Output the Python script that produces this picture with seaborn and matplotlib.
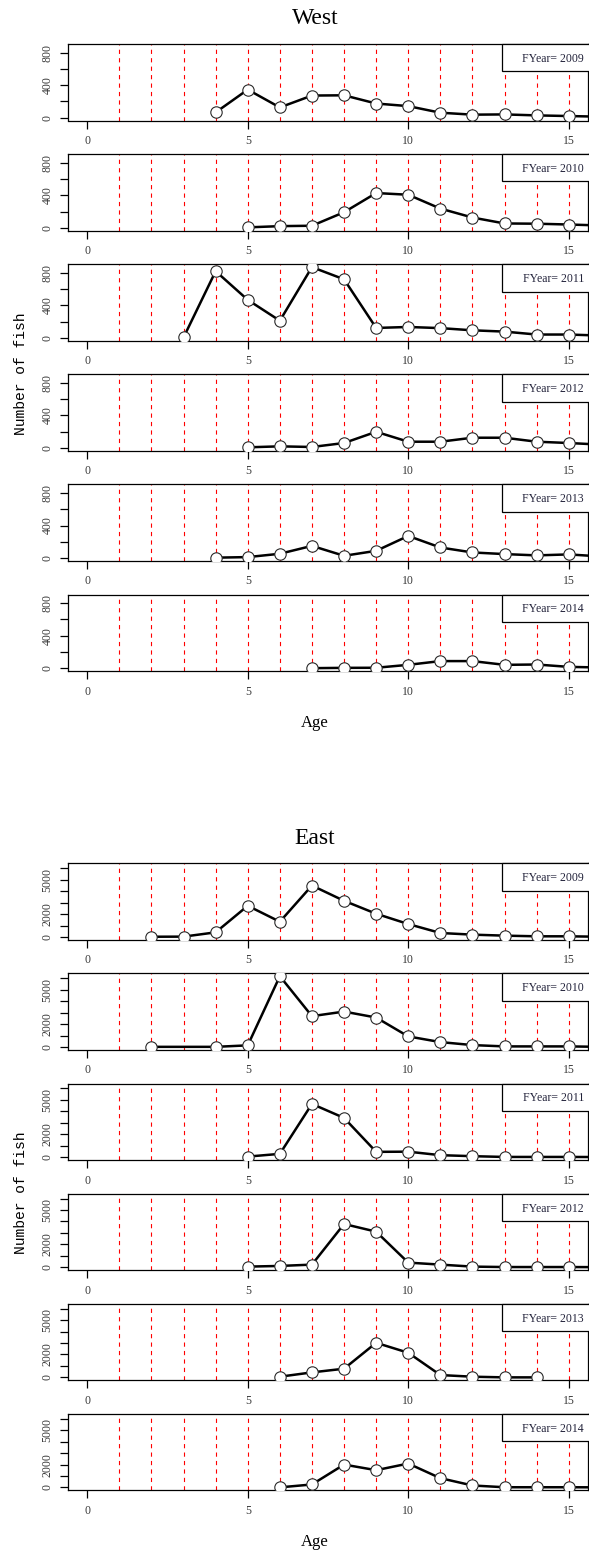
import matplotlib
matplotlib.use("Agg")
import matplotlib.pyplot as plt
import seaborn as sns
import pandas as pd
from matplotlib.patches import Rectangle

# ---------------- data ----------------
years = [2009, 2010, 2011, 2012, 2013, 2014]

west_2009_age = [4, 5, 6, 7, 8, 9, 10, 11, 12, 13, 14, 15, 16]
west_2009_n = [65, 345, 126, 272, 275, 174, 142, 61, 37, 40, 28, 20, 12]
west_2010_age = [5, 6, 7, 8, 9, 10, 11, 12, 13, 14, 15, 16]
west_2010_n = [5, 20, 25, 191, 427, 406, 236, 126, 53, 50, 40, 28]
west_2011_age = [3, 4, 5, 6, 7, 8, 9, 10, 11, 12, 13, 14, 15, 16]
west_2011_n = [5, 820, 467, 211, 870, 720, 122, 134, 120, 93, 77, 41, 41, 28]
west_2012_age = [5, 6, 7, 8, 9, 10, 11, 12, 13, 14, 15, 16]
west_2012_n = [8, 20, 12, 61, 199, 77, 77, 126, 126, 77, 61, 41]
west_2013_age = [4, 5, 6, 7, 8, 9, 10, 11, 12, 13, 14, 15, 16]
west_2013_n = [5, 12, 53, 150, 28, 89, 272, 130, 69, 49, 33, 45, 20]
west_2014_age = [7, 8, 9, 10, 11, 12, 13, 14, 15, 16]
west_2014_n = [0, 4, 5, 41, 87, 87, 41, 45, 16, 8]

east_2009_age = [2, 3, 4, 5, 6, 7, 8, 9, 10, 11, 12, 13, 14, 15, 16]
east_2009_n = [20, 30, 405, 2725, 1333, 4493, 3160, 2030, 1130, 348, 203, 116, 58, 58, 20]
east_2010_age = [2, 4, 5, 6, 7, 8, 9, 10, 11, 12, 13, 14, 15, 16]
east_2010_n = [20, 20, 150, 6190, 2700, 3100, 2580, 930, 435, 174, 58, 58, 58, 20]
east_2011_age = [5, 6, 7, 8, 9, 10, 11, 12, 13, 14, 15, 16]
east_2011_n = [50, 290, 4650, 3430, 465, 480, 175, 87, 20, 20, 20, 10]
east_2012_age = [5, 6, 7, 8, 9, 10, 11, 12, 13, 14, 15, 16]
east_2012_n = [58, 116, 232, 3780, 3110, 407, 232, 58, 20, 20, 20, 10]
east_2013_age = [6, 7, 8, 9, 10, 11, 12, 13, 14]
east_2013_n = [58, 436, 756, 3020, 2150, 203, 58, 0, 0]
east_2014_age = [6, 7, 8, 9, 10, 11, 12, 13, 14, 15, 16]
east_2014_n = [10, 262, 2000, 1510, 2090, 814, 174, 20, 20, 20, 10]

ref_ages = [1, 2, 3, 4, 5, 6, 7, 8, 9, 10, 11, 12, 13, 14, 15]
x_ticks = [0, 5, 10, 15]
west_yticks = [0, 200, 400, 600, 800]
west_ylabels = ["0", "", "400", "", "800"]
east_yticks = [0, 1000, 2000, 3000, 4000, 5000, 6000]
east_ylabels = ["0", "", "2000", "", "", "5000", ""]

west = {
    2009: (west_2009_age, west_2009_n), 2010: (west_2010_age, west_2010_n),
    2011: (west_2011_age, west_2011_n), 2012: (west_2012_age, west_2012_n),
    2013: (west_2013_age, west_2013_n), 2014: (west_2014_age, west_2014_n),
}
east = {
    2009: (east_2009_age, east_2009_n), 2010: (east_2010_age, east_2010_n),
    2011: (east_2011_age, east_2011_n), 2012: (east_2012_age, east_2012_n),
    2013: (east_2013_age, east_2013_n), 2014: (east_2014_age, east_2014_n),
}

rows = []
for region, d in (("West", west), ("East", east)):
    for yr, (ages, vals) in d.items():
        for a, v in zip(ages, vals):
            rows.append({"region": region, "FYear": yr, "Age": a, "N": v})
df = pd.DataFrame(rows)

# ---------------- style ----------------
sns.set_style("ticks")
plt.rcParams['font.family'] = ['Liberation Serif', 'DejaVu Serif']

W, H = 589, 1555
fig = plt.figure(figsize=(W / 100, H / 100), dpi=100)

PANEL_H = 76.5
LEFT = 68
AX_W = 520
PITCH = 110.1


def fy(px):
    return 1 - px / H


regions = [
    ("West", 44.0, (-34.8, 905.8), west_yticks, west_ylabels, 19, 723, 374),
    ("East", 863.3, (-247, 6435), east_yticks, east_ylabels, 838, 1542, 1193),
]

tick_col = "#3a3a3a"

for name, top0, ylim, yt, ylab, title_y, age_y, ylab_y in regions:
    for i, yr in enumerate(years):
        top = top0 + i * PITCH
        ax = fig.add_axes([LEFT / W, fy(top + PANEL_H), AX_W / W, PANEL_H / H])
        for a in ref_ages:
            ax.axvline(a, color="red", lw=0.8, ls=(0, (3.8, 3.8)), zorder=1)
        sub = df[(df.region == name) & (df.FYear == yr)]
        sns.lineplot(data=sub, x="Age", y="N", ax=ax, color="black", lw=1.8,
                     marker="o", markersize=8.2, markerfacecolor="white",
                     markeredgecolor="#2a2a2a", markeredgewidth=0.8,
                     estimator=None, sort=True, zorder=3)
        ax.set_xlim(-0.6, 15.6)
        ax.set_ylim(*ylim)
        ax.set_xticks(x_ticks)
        ax.set_xticklabels([str(t) for t in x_ticks])
        ax.set_yticks(yt)
        ax.set_yticklabels(ylab, rotation=90, va="center")
        ax.set_xlabel("")
        ax.set_ylabel("")
        ax.tick_params(axis="both", direction="out", length=5.5, width=0.9,
                       colors="black", labelcolor=tick_col, labelsize=8.5, pad=5)
        for s in ax.spines.values():
            s.set_linewidth(0.9)
            s.set_color("black")
            s.set_visible(True)
        ax.add_patch(Rectangle((0.835, 0.643), 0.168, 0.357, transform=ax.transAxes,
                               facecolor="white", edgecolor="black", lw=0.9,
                               zorder=5, clip_on=False))
        ax.text(0.992, 0.804, f"FYear= {yr}", transform=ax.transAxes,
                ha="right", va="center", fontsize=8.5, color="#22223a", zorder=6)
    fig.text(315 / W, fy(title_y), name, ha="center", va="center", fontsize=17,
             color="black")
    fig.text(315 / W, fy(age_y), "Age", ha="center", va="center", fontsize=12,
             color="black")
    fig.text(21 / W, fy(ylab_y), "Number of fish", ha="center", va="center",
             rotation=90, fontsize=10.5, color="black",
             family=["Liberation Mono", "DejaVu Sans Mono"])

fig.savefig("out.png", dpi=100)
